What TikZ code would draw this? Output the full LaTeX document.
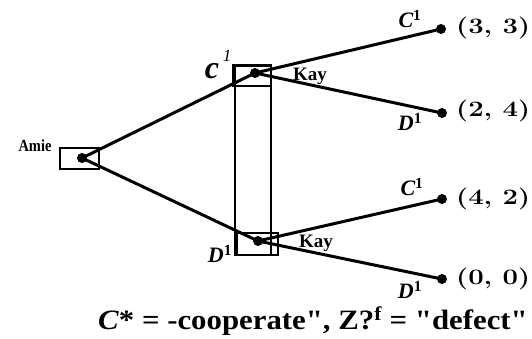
\documentclass[tikz,border=0pt]{standalone}
\usepackage{fontspec}
\setmainfont{Liberation Serif}[Ligatures=TeXOff]
\newfontfamily\lmfont{Latin Modern Roman}
\begin{document}
\begin{tikzpicture}[x=1pt,y=-1pt,
  dot/.style={circle,fill=black,inner sep=0pt,minimum size=10pt},
  infobox/.style={draw=black,line width=2.4pt},
  edge/.style={line width=3pt},
  pay/.style={anchor=west,font=\lmfont\bfseries\fontsize{22}{22}\selectfont,inner sep=0pt},
  act/.style={font=\bfseries\itshape\fontsize{22}{22}\selectfont,inner sep=0pt},
  who/.style={font=\bfseries\fontsize{19}{19}\selectfont,inner sep=0pt}]
\useasboundingbox (0,0) rectangle (532,338);
% decision nodes
\node[dot] (a) at (82,158) {};
\node[dot] (k1) at (255,73) {};
\node[dot] (k2) at (258,241) {};
% terminal nodes
\node[dot] (t1) at (441,29) {};
\node[dot] (t2) at (442,113) {};
\node[dot] (t3) at (442,199) {};
\node[dot] (t4) at (442,279) {};
% edges
\draw[edge] (a.center) -- (k1.center);
\draw[edge] (a.center) -- (k2.center);
\draw[edge] (k1.center) -- (t1.center);
\draw[edge] (k1.center) -- (t2.center);
\draw[edge] (k2.center) -- (t3.center);
\draw[edge] (k2.center) -- (t4.center);
% boxes
\draw[infobox] (60,148) rectangle (99,169);
\draw[infobox] (233,65) rectangle (271,86);
\draw[infobox] (237,233) rectangle (278,255);
\draw[infobox] (235,66) rectangle (271,255);
% labels
\node[font=\bfseries\fontsize{17}{17}\selectfont,inner sep=0pt] (la) at (35,146) {\scalebox{0.85}[1]{Amie}};
\node[who] (lk1) at (310,76) {Kay};
\node[who] (lk2) at (316,243) {Kay};
\node[font=\bfseries\itshape\fontsize{32}{32}\selectfont,inner sep=0pt] (lc) at (212,71) {c};
\node[font=\itshape\fontsize{17}{17}\selectfont,inner sep=0pt] (lc1s) at (227,56) {1};
\node[act] (ld) at (220,254) {D\textsuperscript{\upshape 1}};
\node[act] (lc1) at (410,19) {C\textsuperscript{\upshape 1}};
\node[act] (ld1) at (410,122) {D\textsuperscript{\upshape 1}};
\node[act] (lc2) at (412,187) {C\textsuperscript{\upshape 1}};
\node[act] (ld2) at (410,290) {D\textsuperscript{\upshape 1}};
\node[pay] (p1) at (456,28) {\scalebox{1.25}[1]{(3, 3)}};
\node[pay] (p2) at (456,111) {\scalebox{1.25}[1]{(2, 4)}};
\node[pay] (p3) at (456,199) {\scalebox{1.25}[1]{(4, 2)}};
\node[pay] (p4) at (456,279) {\scalebox{1.25}[1]{(0, 0)}};
\node[font=\bfseries\fontsize{28}{28}\selectfont,inner sep=0pt] (note) at (313,321) {\scalebox{1.1}[1]{\textit{C}* = -cooperate", Z?\textsuperscript{f} = "defect"}};
\end{tikzpicture}
\end{document}
